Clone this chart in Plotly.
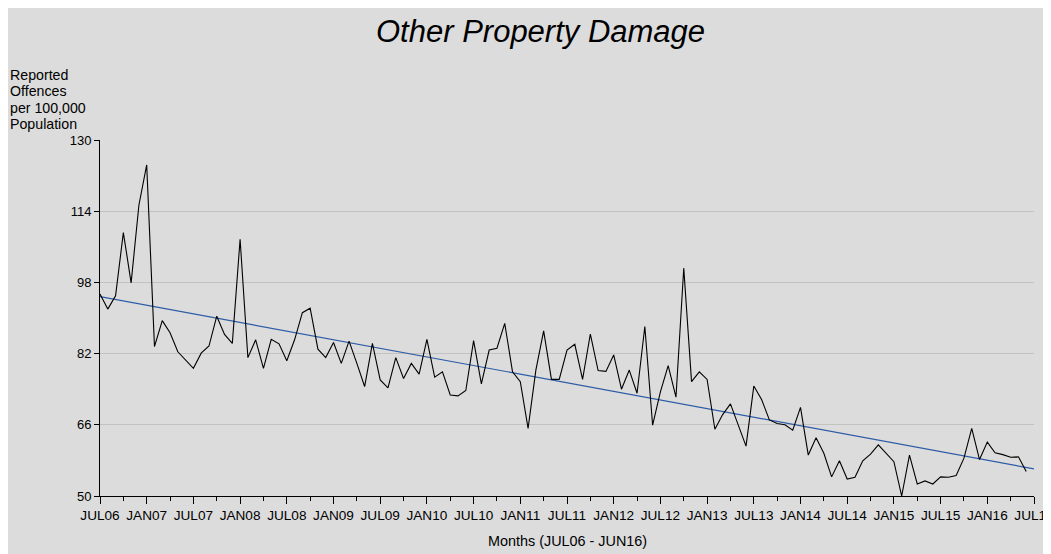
import plotly.graph_objects as go

# Monthly values, JUL06 .. JUN16 (month index 0..119)
offences = [
    95.4, 92.0, 95.0, 109.2, 97.9, 115.4, 124.4, 83.6, 89.4, 86.7, 82.4, 80.6,
    78.7, 82.1, 83.7, 90.4, 86.3, 84.3, 107.7, 81.1, 85.1, 78.7, 85.2, 84.2,
    80.4, 85.1, 91.2, 92.2, 83.0, 81.1, 84.5, 79.8, 84.8, 79.8, 74.6, 84.3,
    76.1, 74.3, 81.1, 76.4, 79.8, 77.4, 85.2, 76.7, 77.9, 72.7, 72.5, 73.7,
    84.9, 75.2, 82.8, 83.2, 88.8, 77.9, 75.7, 65.2, 78.3, 87.1, 76.2, 76.2,
    82.8, 84.1, 76.2, 86.4, 78.2, 78.0, 81.7, 74.0, 78.3, 73.1, 88.1, 65.9,
    73.4, 79.3, 72.2, 101.2, 75.7, 77.9, 76.2, 65.0, 68.3, 70.7, 66.0, 61.2,
    74.7, 71.7, 67.1, 66.3, 66.0, 64.8, 69.9, 59.2, 63.1, 59.6, 54.3, 57.9,
    53.8, 54.2, 57.9, 59.4, 61.5, 59.7, 57.7, 50.0, 59.2, 52.7, 53.4, 52.7,
    54.3, 54.2, 54.6, 58.5, 65.2, 58.2, 62.1, 59.7, 59.3, 58.7, 58.8, 55.5,
]
month_index = list(range(len(offences)))

# linear trend line (start / end values)
trend_months = [0, 120]
trend_values = [94.8, 56.1]

tick_positions = list(range(0, 121, 6))
tick_labels = ["JUL06", "JAN07", "JUL07", "JAN08", "JUL08", "JAN09", "JUL09",
               "JAN10", "JUL10", "JAN11", "JUL11", "JAN12", "JUL12", "JAN13",
               "JUL13", "JAN14", "JUL14", "JAN15", "JUL15", "JAN16", "JUL16"]
minor_positions = list(range(3, 120, 6))
y_ticks = [50, 66, 82, 98, 114, 130]
y_title_lines = ["Reported", "Offences", "per 100,000", "Population"]

FONT = "Liberation Sans, Arial, sans-serif"
BG = "#dcdcdc"

fig = go.Figure()
fig.add_trace(go.Scatter(x=trend_months, y=trend_values, mode="lines",
                         line=dict(color="#2b5ca6", width=1.2), hoverinfo="skip"))
fig.add_trace(go.Scatter(x=month_index, y=offences, mode="lines",
                         line=dict(color="black", width=1.1)))

# page has an 8px body margin; figure coordinates = page coordinates - 8
OFF = 8
W, H = 1051 - OFF, 554 - OFF
L, T = 100 - OFF, 140 - OFF
plot_right, plot_bottom = 1034 - OFF, 496 - OFF
R, B = W - plot_right, H - plot_bottom
pw, ph = plot_right - L, plot_bottom - T

def px_x(p):
    return (p - OFF - L) / pw

def px_y(p):
    return (plot_bottom - (p - OFF)) / ph

annotations = [
    dict(text="<i>Other Property Damage</i>", xref="paper", yref="paper",
         x=px_x(540), y=px_y(31), xanchor="center", yanchor="middle",
         showarrow=False, font=dict(size=31, family=FONT)),
    dict(text="Months (JUL06 - JUN16)", xref="paper", yref="paper",
         x=px_x(567), y=px_y(541), xanchor="center", yanchor="middle",
         showarrow=False, font=dict(size=14.4, family=FONT)),
]
for i, line in enumerate(y_title_lines):
    annotations.append(dict(text=line, xref="paper", yref="paper",
                            x=px_x(8), y=px_y(75 + 16.4 * i), xanchor="left", yanchor="middle",
                            align="left", showarrow=False, font=dict(size=14.2, family=FONT)))

fig.update_layout(
    width=W, height=H, autosize=False,
    margin=dict(l=L, r=R, t=T, b=B, pad=0, autoexpand=False),
    paper_bgcolor=BG, plot_bgcolor=BG,
    showlegend=False,
    font=dict(family=FONT, size=13, color="black"),
    xaxis=dict(
        range=[0, 120], tickmode="array", tickvals=tick_positions, ticktext=tick_labels,
        ticks="outside", ticklen=7, tickcolor="black", tickwidth=1,
        showline=True, linecolor="black", linewidth=1, showgrid=False, zeroline=False,
        tickfont=dict(size=13.6), ticklabeloverflow="allow", automargin=False,
        minor=dict(tickmode="array", tickvals=minor_positions, ticks="outside",
                   ticklen=4, tickcolor="black", showgrid=False),
    ),
    yaxis=dict(
        range=[50, 130], tickmode="array", tickvals=y_ticks,
        ticks="outside", ticklen=5, tickcolor="black", tickwidth=1,
        showline=True, linecolor="black", linewidth=1, automargin=False,
        showgrid=True, gridcolor="#c2c2c2", gridwidth=1, zeroline=False,
        tickfont=dict(size=13),
    ),
    annotations=annotations,
)

fig.write_html("out.html")
